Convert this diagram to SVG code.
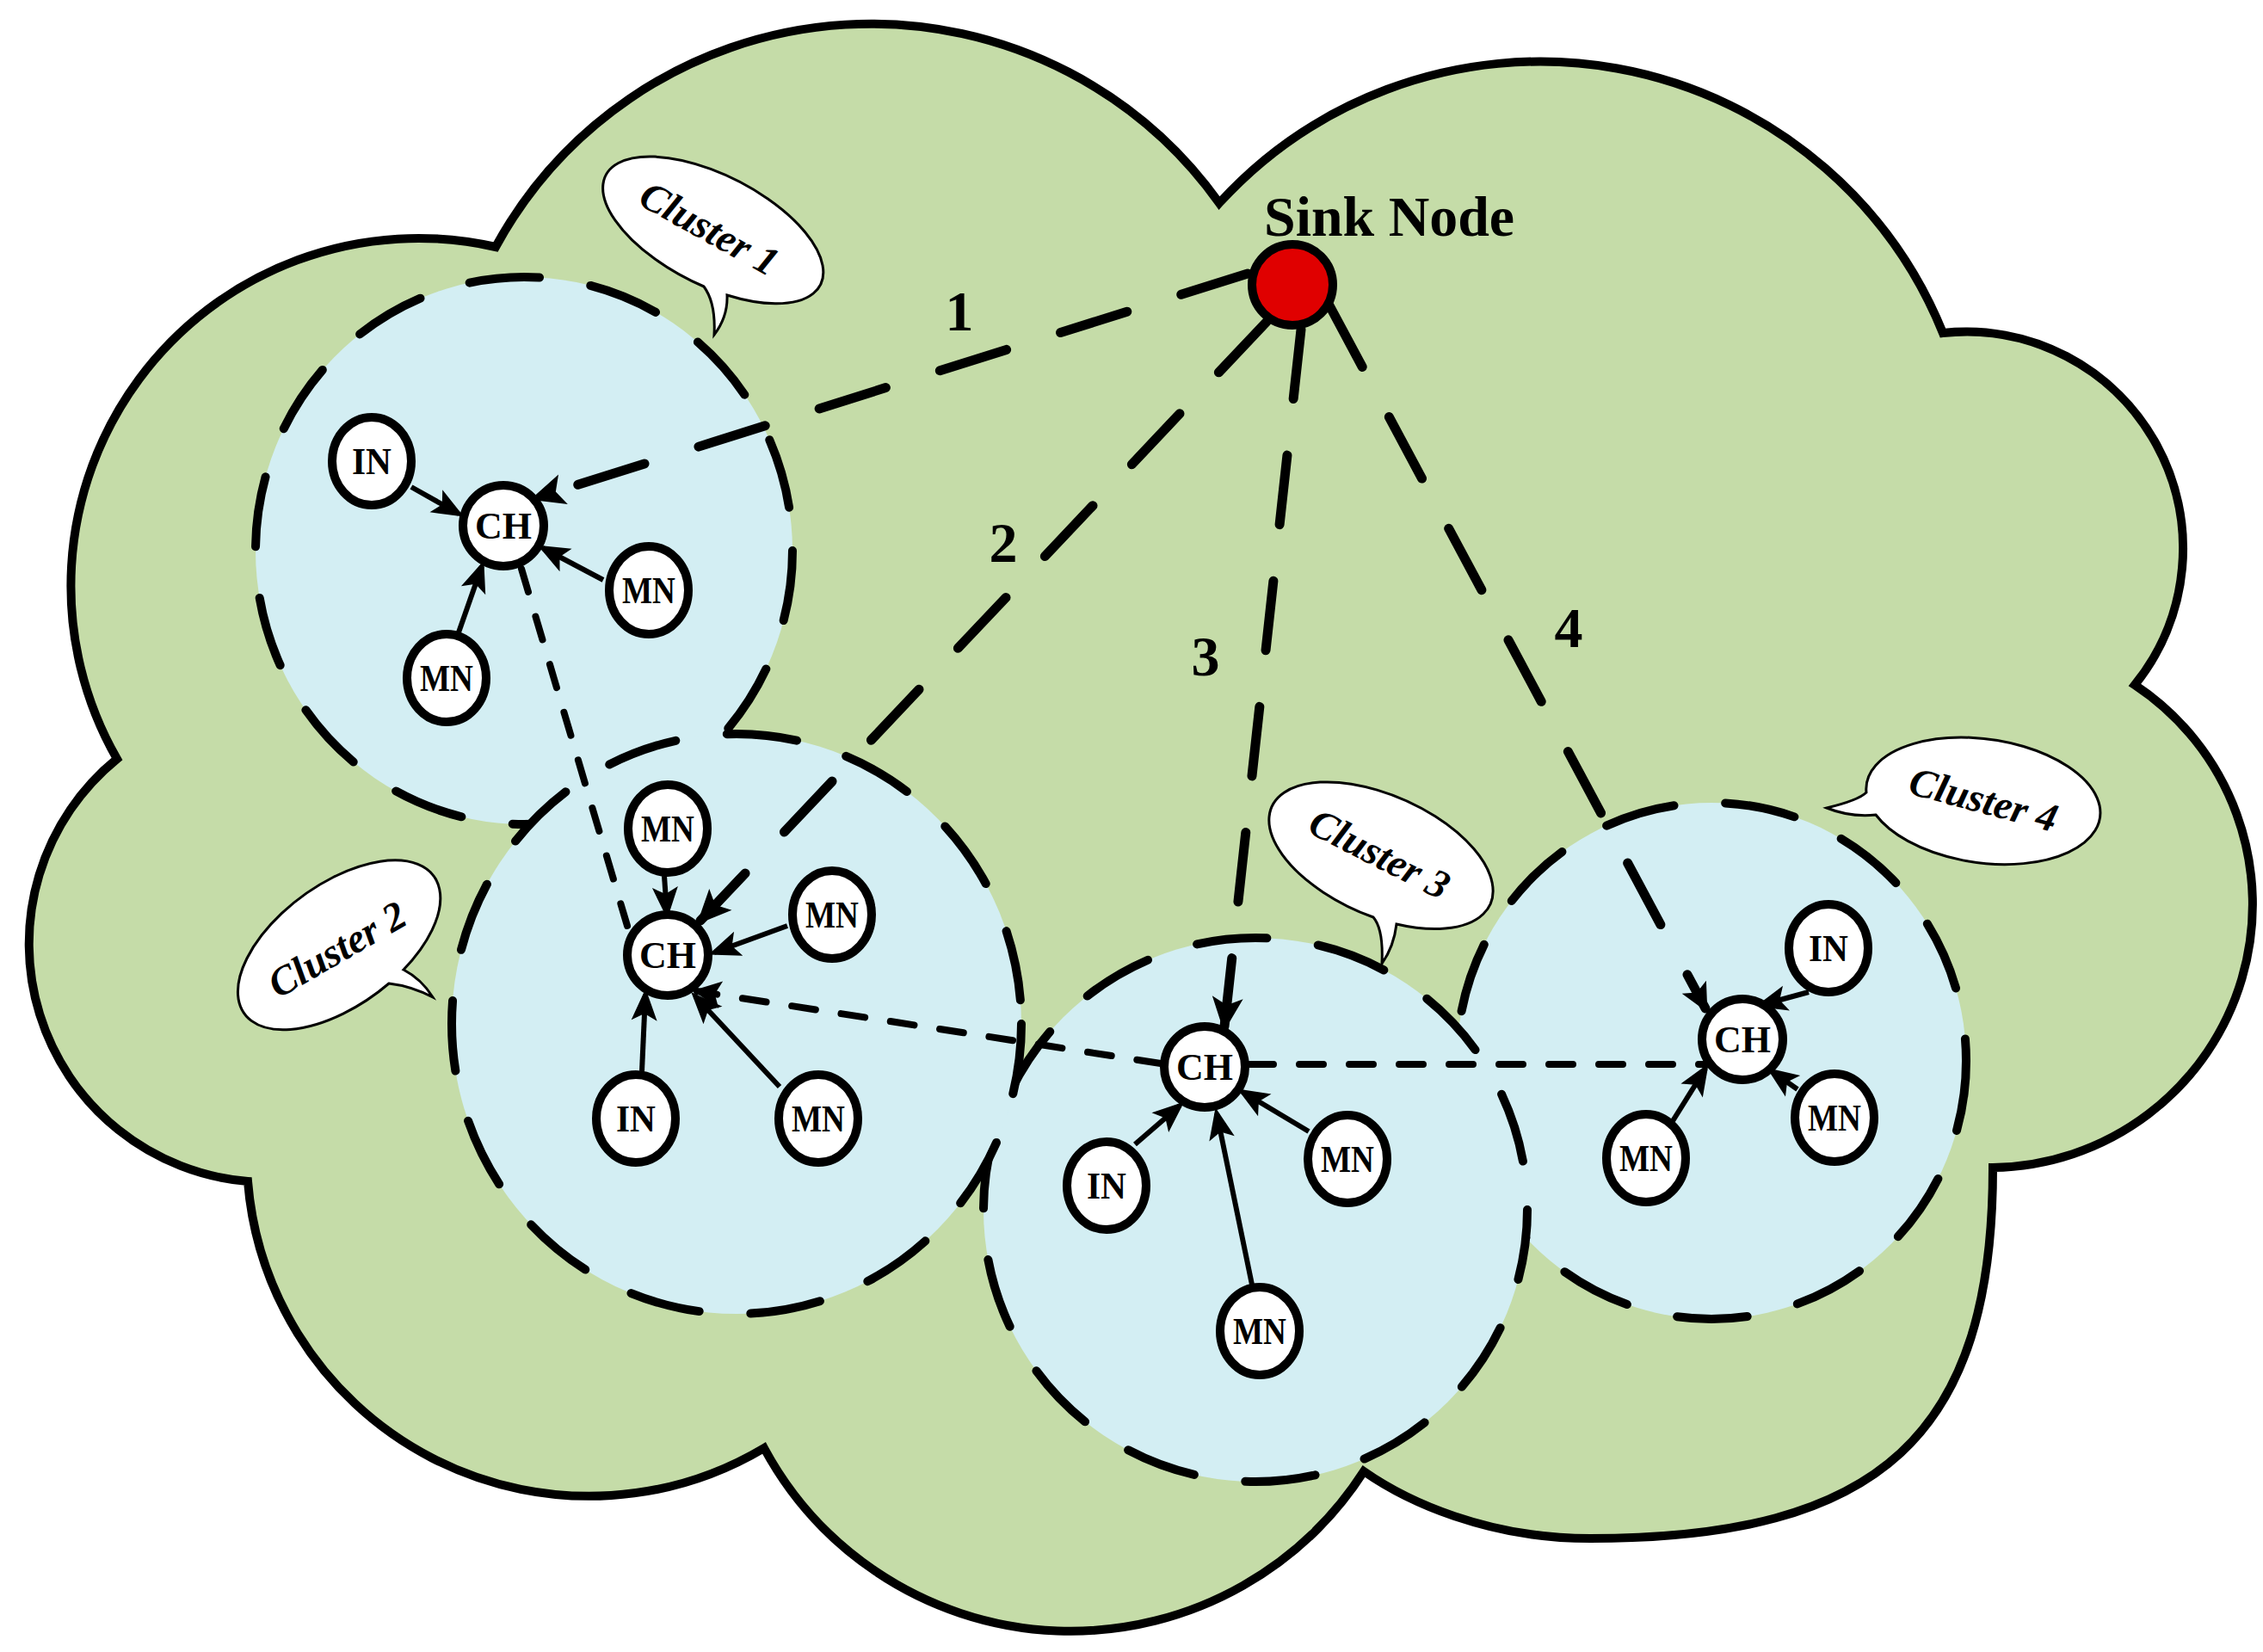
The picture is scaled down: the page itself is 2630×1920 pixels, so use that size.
<svg xmlns="http://www.w3.org/2000/svg" width="2630" height="1920" viewBox="0 0 2630 1920">
<defs>
<style>
.cloud{fill:#c5dca8;stroke:#000;stroke-width:10}
.cluster{fill:#d3eef3;stroke:#000;stroke-width:10;stroke-dasharray:82 60;stroke-linecap:round}
.bubble{fill:#fff;stroke:#000;stroke-width:3}
.btxt{font-family:"Liberation Serif","Times New Roman",serif;font-weight:bold;font-style:italic;font-size:47px;text-anchor:middle}
.link{fill:none;stroke:#000;stroke-width:11;stroke-dasharray:81 66;stroke-linecap:round}
.chlink{fill:none;stroke:#000;stroke-width:8;stroke-dasharray:28 30;stroke-linecap:round}
.arr{fill:none;stroke:#000;stroke-width:6}
.node{fill:#fff;stroke:#000;stroke-width:10}
.sink{fill:#e00000;stroke:#000;stroke-width:10}
.ntxt{font-family:"Liberation Serif","Times New Roman",serif;font-weight:bold;font-size:44px;text-anchor:middle}
.lbl{font-family:"Liberation Serif","Times New Roman",serif;font-weight:bold;font-size:66px;text-anchor:middle}
</style>
<marker id="big" markerUnits="userSpaceOnUse" markerWidth="60" markerHeight="44" viewBox="-40 -22 60 44" refX="0" refY="0" orient="auto">
<path d="M6,0 L-34,-18 L-25,0 L-34,18 Z" fill="#000" stroke="none"/>
</marker>
<marker id="med" markerUnits="userSpaceOnUse" markerWidth="50" markerHeight="40" viewBox="-35 -20 50 40" refX="0" refY="0" orient="auto">
<path d="M5,0 L-28,-16 L-21,0 L-28,16 Z" fill="#000" stroke="none"/>
</marker>
<marker id="sm" markerUnits="userSpaceOnUse" markerWidth="50" markerHeight="40" viewBox="-40 -20 50 40" refX="0" refY="0" orient="auto">
<path d="M7,0 L-30,-15 L-22,0 L-30,15 Z" fill="#000" stroke="none"/>
</marker>
</defs>

<g id="cloud">
<path class="cloud" d="M576,287 A497,497 0 0 1 1417,236 A505,505 0 0 1 2258,387 A252,252 0 0 1 2481,796 A306,306 0 0 1 2316,1357 C2316,1667 2186,1788 1848,1788 C1728,1788 1635,1745 1585,1710 A405,405 0 0 1 888,1683 A398,398 0 0 1 288,1373 A277,277 0 0 1 136,882 A404,404 0 0 1 576,287 Z"/>
</g>

<g id="clusters">
<ellipse id="cluster1" class="cluster" cx="609" cy="640" rx="312" ry="318"/>
<ellipse id="cluster4" class="cluster" cx="1989" cy="1233" rx="296" ry="300"/>
<circle id="cluster3" class="cluster" cx="1459" cy="1406" r="316"/>
<ellipse id="cluster2" class="cluster" cx="856" cy="1190" rx="331" ry="337"/>
</g>

<g id="bubble1">
<path class="bubble" d="M818,333 A140,64 27 1 1 845,343 Q846,368 830,389 Q832,352 818,333 Z"/>
<text class="btxt" transform="translate(824,266) rotate(29)" x="0" y="15">Cluster 1</text>
</g>
<g id="bubble2">
<path class="bubble" d="M452,1143 A136,71 -36 1 1 469,1127 Q490,1138 503,1159 Q478,1146 452,1143 Z"/>
<text class="btxt" transform="translate(392,1104) rotate(-30)" x="0" y="15">Cluster 2</text>
</g>
<g id="bubble3">
<path class="bubble" d="M1596,1066 A139,70 24 1 1 1623,1074 Q1620,1100 1606,1120 Q1608,1080 1596,1066 Z"/>
<text class="btxt" transform="translate(1603,993) rotate(27)" x="0" y="15">Cluster 3</text>
</g>
<g id="bubble4">
<path class="bubble" d="M2169,921 A137,72 8 1 1 2180,947 Q2150,950 2123,939 Q2160,930 2169,921 Z"/>
<text class="btxt" transform="translate(2305,930) rotate(15)" x="0" y="15">Cluster 4</text>
</g>

<g id="connectors">
<path class="link" d="M1450,318 L622,579" marker-end="url(#big)"/>
<path class="link" d="M1472,374 L814,1070" marker-end="url(#big)"/>
<path class="link" d="M1512,383 L1423,1193" marker-end="url(#big)"/>
<path class="link" d="M1545,355 L1982,1172" marker-end="url(#med)"/>
<path class="chlink" d="M606,661 L729,1076"/>
<path class="chlink" d="M1349,1236 L810,1152" marker-end="url(#med)"/>
<path class="chlink" d="M1452,1237 L1982,1237"/>
<path class="arr" d="M478,566 L533,597" marker-end="url(#sm)"/>
<path class="arr" d="M701,674 L631,637" marker-end="url(#sm)"/>
<path class="arr" d="M533,735 L560,658" marker-end="url(#sm)"/>
<path class="arr" d="M772,1018 L775,1061" marker-end="url(#sm)"/>
<path class="arr" d="M915,1076 L830,1107" marker-end="url(#sm)"/>
<path class="arr" d="M746,1245 L750,1156" marker-end="url(#sm)"/>
<path class="arr" d="M906,1263 L808,1158" marker-end="url(#sm)"/>
<path class="arr" d="M1319,1330 L1371,1285" marker-end="url(#sm)"/>
<path class="arr" d="M1521,1315 L1444,1269" marker-end="url(#sm)"/>
<path class="arr" d="M1455,1493 L1414,1294" marker-end="url(#sm)"/>
<path class="arr" d="M2102,1153 L2047,1168" marker-end="url(#sm)"/>
<path class="arr" d="M2089,1266 L2059,1245" marker-end="url(#sm)"/>
<path class="arr" d="M1942,1306 L1982,1242" marker-end="url(#sm)"/>
</g>

<g id="link-labels">
<text class="lbl" x="1115" y="384">1</text>
<text class="lbl" x="1166" y="653">2</text>
<text class="lbl" x="1401" y="785">3</text>
<text class="lbl" x="1823" y="752">4</text>
</g>

<g id="sink-node">
<circle class="sink" cx="1502" cy="331" r="47"/>
<text class="lbl" x="1469" y="274" style="text-anchor:start" textLength="291" lengthAdjust="spacingAndGlyphs">Sink Node</text>
</g>

<g id="c1-ch"><circle class="node" cx="585" cy="611" r="47"/><text class="ntxt" x="585" y="626">CH</text></g>
<g id="c1-in"><ellipse class="node" cx="432" cy="536" rx="46" ry="51"/><text class="ntxt" x="432" y="551" textLength="46" lengthAdjust="spacingAndGlyphs">IN</text></g>
<g id="c1-mn1"><ellipse class="node" cx="754" cy="686" rx="46" ry="51"/><text class="ntxt" x="754" y="701" textLength="62" lengthAdjust="spacingAndGlyphs">MN</text></g>
<g id="c1-mn2"><ellipse class="node" cx="519" cy="788" rx="46" ry="51"/><text class="ntxt" x="519" y="803" textLength="62" lengthAdjust="spacingAndGlyphs">MN</text></g>

<g id="c2-ch"><circle class="node" cx="776" cy="1110" r="47"/><text class="ntxt" x="776" y="1125">CH</text></g>
<g id="c2-mn1"><ellipse class="node" cx="776" cy="963" rx="46" ry="51"/><text class="ntxt" x="776" y="978" textLength="62" lengthAdjust="spacingAndGlyphs">MN</text></g>
<g id="c2-mn2"><ellipse class="node" cx="967" cy="1063" rx="46" ry="51"/><text class="ntxt" x="967" y="1078" textLength="62" lengthAdjust="spacingAndGlyphs">MN</text></g>
<g id="c2-in"><ellipse class="node" cx="739" cy="1300" rx="46" ry="51"/><text class="ntxt" x="739" y="1315" textLength="46" lengthAdjust="spacingAndGlyphs">IN</text></g>
<g id="c2-mn3"><ellipse class="node" cx="951" cy="1300" rx="46" ry="51"/><text class="ntxt" x="951" y="1315" textLength="62" lengthAdjust="spacingAndGlyphs">MN</text></g>

<g id="c3-ch"><circle class="node" cx="1400" cy="1240" r="47"/><text class="ntxt" x="1400" y="1255">CH</text></g>
<g id="c3-in"><ellipse class="node" cx="1286" cy="1378" rx="46" ry="51"/><text class="ntxt" x="1286" y="1393" textLength="46" lengthAdjust="spacingAndGlyphs">IN</text></g>
<g id="c3-mn1"><ellipse class="node" cx="1566" cy="1347" rx="46" ry="51"/><text class="ntxt" x="1566" y="1362" textLength="62" lengthAdjust="spacingAndGlyphs">MN</text></g>
<g id="c3-mn2"><ellipse class="node" cx="1464" cy="1547" rx="46" ry="51"/><text class="ntxt" x="1464" y="1562" textLength="62" lengthAdjust="spacingAndGlyphs">MN</text></g>

<g id="c4-ch"><circle class="node" cx="2025" cy="1208" r="47"/><text class="ntxt" x="2025" y="1223">CH</text></g>
<g id="c4-in"><ellipse class="node" cx="2125" cy="1102" rx="46" ry="51"/><text class="ntxt" x="2125" y="1117" textLength="46" lengthAdjust="spacingAndGlyphs">IN</text></g>
<g id="c4-mn1"><ellipse class="node" cx="2132" cy="1299" rx="46" ry="51"/><text class="ntxt" x="2132" y="1314" textLength="62" lengthAdjust="spacingAndGlyphs">MN</text></g>
<g id="c4-mn2"><ellipse class="node" cx="1913" cy="1346" rx="46" ry="51"/><text class="ntxt" x="1913" y="1361" textLength="62" lengthAdjust="spacingAndGlyphs">MN</text></g>
</svg>
